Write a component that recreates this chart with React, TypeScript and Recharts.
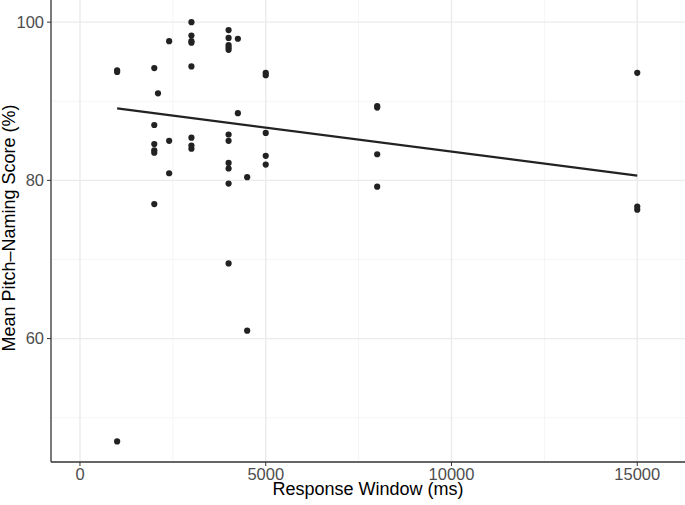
import React from 'react';
import {
  ScatterChart, Scatter, XAxis, YAxis, CartesianGrid,
} from 'recharts';

// response window (ms) per participant group, and mean pitch-naming score (%)
const responseWindow = [
  1000, 1000, 1000,
  2000, 2000, 2000, 2000, 2000, 2000,
  2100,
  2400, 2400, 2400,
  3000, 3000, 3000, 3000, 3000, 3000, 3000, 3000,
  4000, 4000, 4000, 4000, 4000, 4000, 4000, 4000, 4000, 4000, 4000,
  4250, 4250,
  4500, 4500,
  5000, 5000, 5000, 5000, 5000,
  8000, 8000, 8000, 8000,
  15000, 15000, 15000,
];

const meanScore = [
  93.9, 93.7, 47.0,
  94.2, 87.0, 84.6, 83.8, 83.5, 77.0,
  91.0,
  97.6, 85.0, 80.9,
  100.0, 98.3, 97.6, 97.4, 94.4, 85.4, 84.4, 84.0,
  99.0, 98.0, 97.1, 96.8, 96.5, 85.8, 85.0, 82.2, 81.5, 79.6, 69.5,
  97.9, 88.5,
  80.4, 61.0,
  93.6, 93.3, 86.0, 83.1, 82.0,
  89.4, 89.2, 83.3, 79.2,
  93.6, 76.7, 76.3,
];

// linear fit end points
const fitX = [1000, 15000];
const fitY = [89.1, 80.6];

const xTicks = [0, 5000, 10000, 15000];
const xMinor = [2500, 7500, 12500];
const yTicks = [60, 80, 100];
const yMinor = [50, 70, 90];

const points = responseWindow.map((x, i) => ({ x, y: meanScore[i] }));
const fit = fitX.map((x, i) => ({ x, y: fitY[i] }));

const FONT = '"Liberation Sans", Arial, Helvetica, sans-serif';

const Dot = (props: any) => (
  <circle cx={props.cx} cy={props.cy} r={3.1} fill="#222" />
);

export default function App() {
  return (
    <div style={{ position: 'absolute', left: 0, top: 0, fontFamily: FONT }}>
      <ScatterChart
        width={685}
        height={505}
        margin={{ top: 0, right: 0, bottom: 0, left: 0 }}
      >
        <CartesianGrid
          stroke="#f3f3f3"
          strokeWidth={0.8}
          horizontalValues={yMinor}
          verticalValues={xMinor}
        />
        <CartesianGrid
          stroke="#ebebeb"
          strokeWidth={1.4}
          horizontalValues={yTicks}
          verticalValues={xTicks}
        />
        <XAxis
          type="number"
          dataKey="x"
          domain={[-780, 16285]}
          allowDataOverflow
          ticks={xTicks}
          height={43}
          tickSize={4}
          tickMargin={2}
          axisLine={{ stroke: '#333', strokeWidth: 1.3 }}
          tickLine={{ stroke: '#333' }}
          tick={{ fill: '#4d4d4d', fontSize: 16.5, fontFamily: FONT }}
          label={{
            content: () => (
              <text
                x={368}
                y={495}
                textAnchor="middle"
                fontSize={18}
                fontFamily={FONT}
                fill="#000"
              >
                Response Window (ms)
              </text>
            ),
          }}
        />
        <YAxis
          type="number"
          dataKey="y"
          domain={[44.4, 102.8]}
          allowDataOverflow
          ticks={yTicks}
          width={51}
          tickSize={4}
          tickMargin={3}
          axisLine={{ stroke: '#333', strokeWidth: 1.3 }}
          tickLine={{ stroke: '#333' }}
          tick={{ fill: '#4d4d4d', fontSize: 16.5, fontFamily: FONT }}
          label={{
            content: () => (
              <text
                x={15}
                y={228}
                transform="rotate(-90 15 228)"
                textAnchor="middle"
                fontSize={18}
                fontFamily={FONT}
                fill="#000"
              >
                Mean Pitch–Naming Score (%)
              </text>
            ),
          }}
        />
        <Scatter
          data={points}
          shape={Dot}
          isAnimationActive={false}
        />
        <Scatter
          data={fit}
          line={{ stroke: '#222', strokeWidth: 2.2 }}
          shape={() => <g />}
          isAnimationActive={false}
        />
      </ScatterChart>
    </div>
  );
}
